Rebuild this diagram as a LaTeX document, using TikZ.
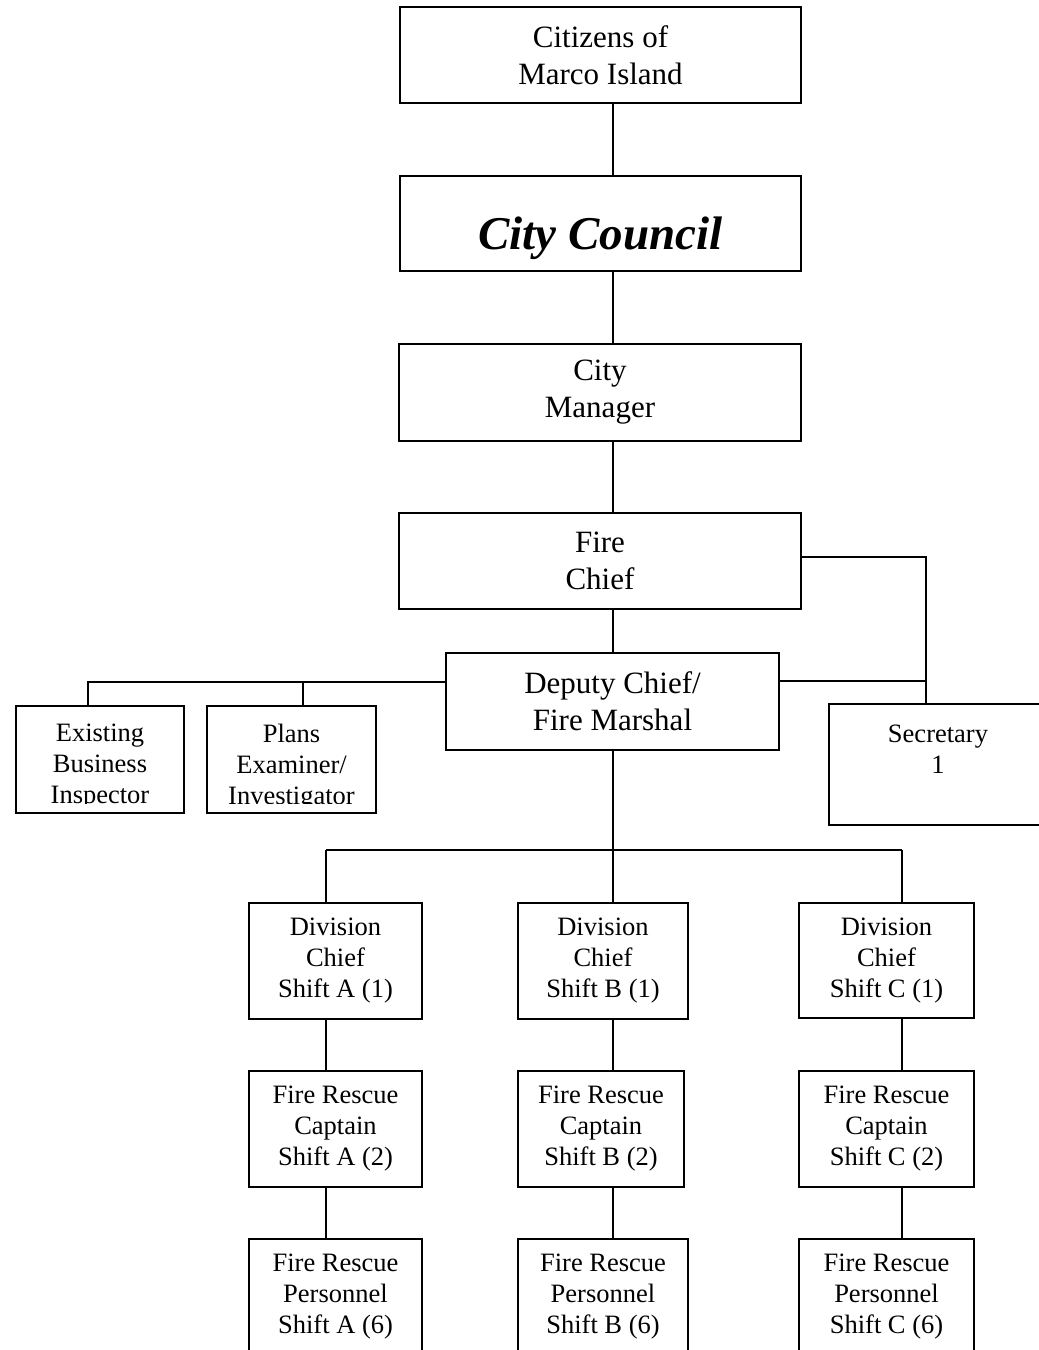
\documentclass[tikz,border=0pt]{standalone}
\usepackage{fontspec}
\setmainfont{Liberation Serif}
\begin{document}
\begin{tikzpicture}[x=1pt,y=-1pt,
  line width=1.5pt,
  box/.style={draw=black, rectangle, inner sep=0pt, align=center},
  bigtxt/.style={font=\fontsize{31}{37}\selectfont, align=center},
  smalltxt/.style={font=\fontsize{26.5}{31}\selectfont, align=center},
  link/.style={draw=black, line width=1.5pt}]
\useasboundingbox (0,0) rectangle (1039,1350);
\fill[white] (0,0) rectangle (1039,1350);
\clip (0,0) rectangle (1039,1350);

% trunk and bus coordinates
\coordinate (trunk) at (613,0);
\coordinate (secbus) at (926,0);
\coordinate (exdrop) at (88,682);
\coordinate (pldrop) at (303,682);
\coordinate (divbus) at (0,850);
\coordinate (colA) at (326,0);
\coordinate (colB) at (613,0);
\coordinate (colC) at (902,0);

% upper chain
\node[box, bigtxt, minimum width=401pt, minimum height=96pt] (citizens) at (600.5,55) {Citizens of\\Marco Island};
\node[box, minimum width=401pt, minimum height=95pt, font=\fontsize{47}{52}\selectfont\bfseries\itshape] (council) at (600.5,223.5) {\raisebox{-26pt}[0pt][0pt]{City Council}};
\node[box, bigtxt, minimum width=402pt, minimum height=97pt] (manager) at (600,392.5) {City\\Manager};
\node[box, bigtxt, minimum width=402pt, minimum height=96pt] (firechief) at (600,561) {Fire\\Chief};
\node[box, bigtxt, minimum width=333pt, minimum height=97pt] (deputy) at (612.5,701.5) {Deputy Chief/\\Fire Marshal};

% secretary
\node[box, minimum width=218pt, minimum height=121pt] (secretary) at (938,764.5) {};
\node[smalltxt] (sectext) at (938,749) {Secretary\\1};

% fire marshal staff
\node[box, minimum width=168pt, minimum height=107pt] (existing) at (100,759.5) {};
\node[box, minimum width=169pt, minimum height=107pt] (plans) at (291.5,759.5) {};
\begin{scope}
  \clip (16,706) rectangle (376,803);
  \node[smalltxt] (existingtext) at (100,767) {Existing\\Business\\Inspector};
  \node[smalltxt] (planstext) at (291.5,767) {Plans\\Examiner/\\Investigator};
\end{scope}

% shift columns
\node[box, smalltxt, minimum width=173pt, minimum height=116pt] (divA) at (335.5,961) {Division\\Chief\\Shift A (1)};
\node[box, smalltxt, minimum width=170pt, minimum height=116pt] (divB) at (603,961) {Division\\Chief\\Shift B (1)};
\node[box, smalltxt, minimum width=175pt, minimum height=115pt] (divC) at (886.5,960.5) {Division\\Chief\\Shift C (1)};

\node[box, smalltxt, minimum width=173pt, minimum height=116pt] (capA) at (335.5,1129) {Fire Rescue\\Captain\\Shift A (2)};
\node[box, smalltxt, minimum width=166pt, minimum height=116pt] (capB) at (601,1129) {Fire Rescue\\Captain\\Shift B (2)};
\node[box, smalltxt, minimum width=175pt, minimum height=116pt] (capC) at (886.5,1129) {Fire Rescue\\Captain\\Shift C (2)};

\node[box, smalltxt, minimum width=173pt, minimum height=116pt] (perA) at (335.5,1297) {Fire Rescue\\Personnel\\Shift A (6)};
\node[box, smalltxt, minimum width=170pt, minimum height=116pt] (perB) at (603,1297) {Fire Rescue\\Personnel\\Shift B (6)};
\node[box, smalltxt, minimum width=175pt, minimum height=116pt] (perC) at (886.5,1297) {Fire Rescue\\Personnel\\Shift C (6)};

% vertical chain of command
\draw[link] (citizens.south -| trunk) -- (council.north -| trunk);
\draw[link] (council.south -| trunk) -- (manager.north -| trunk);
\draw[link] (manager.south -| trunk) -- (firechief.north -| trunk);
\draw[link] (firechief.south -| trunk) -- (deputy.north -| trunk);

% secretary links
\draw[link] ([yshift=4pt]firechief.east) -- ([yshift=4pt]firechief.east -| secbus) -- (secretary.north -| secbus);
\draw[link] ([yshift=20.5pt]deputy.east) -- ([yshift=20.5pt]deputy.east -| secbus);

% staff links
\draw[link] (deputy.west |- exdrop) -- (exdrop) -- (exdrop |- existing.north);
\draw[link] (pldrop) -- (pldrop |- plans.north);

% shift links
\draw[link] (deputy.south -| colB) -- (divB.north -| colB);
\draw[link] (divbus -| colA) -- (divbus -| colC);
\draw[link] (divbus -| colA) -- (divA.north -| colA);
\draw[link] (divbus -| colC) -- (divC.north -| colC);
\draw[link] (divA.south -| colA) -- (capA.north -| colA);
\draw[link] (divB.south -| colB) -- (capB.north -| colB);
\draw[link] (divC.south -| colC) -- (capC.north -| colC);
\draw[link] (capA.south -| colA) -- (perA.north -| colA);
\draw[link] (capB.south -| colB) -- (perB.north -| colB);
\draw[link] (capC.south -| colC) -- (perC.north -| colC);
\end{tikzpicture}
\end{document}
